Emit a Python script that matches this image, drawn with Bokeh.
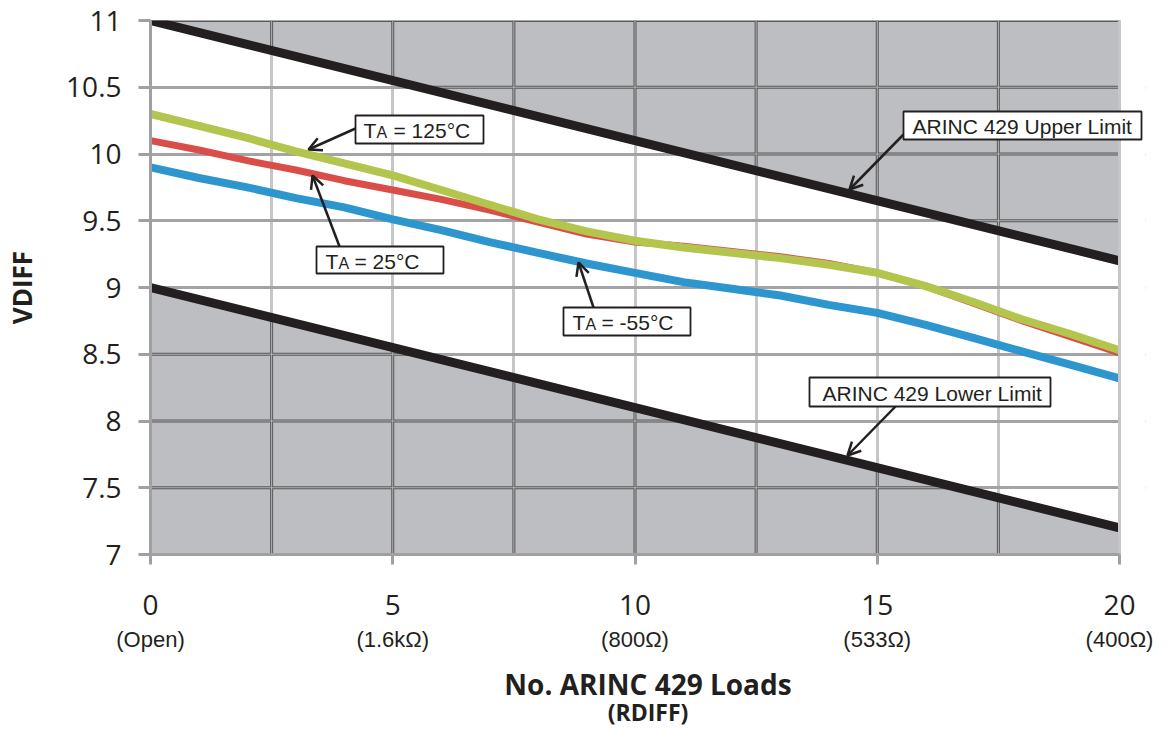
import numpy as np
from bokeh.plotting import figure
from bokeh.models import (FixedTicker, LinearAxis, NumeralTickFormatter, Label,
                          BoxAnnotation, Arrow, OpenHead, Range1d)
from bokeh.embed import file_html
from bokeh.resources import INLINE

# ---------------- data ----------------
loads = list(range(21))
v_125 = [10.30, 10.21, 10.12, 10.02, 9.93, 9.84, 9.73, 9.62, 9.51, 9.42, 9.35,
         9.30, 9.26, 9.22, 9.17, 9.11, 9.01, 8.89, 8.76, 8.65, 8.53]
v_25 = [10.10, 10.03, 9.95, 9.88, 9.80, 9.73, 9.66, 9.58, 9.49, 9.40, 9.34,
        9.31, 9.27, 9.23, 9.18, 9.11, 9.01, 8.88, 8.75, 8.63, 8.51]
v_m55 = [9.90, 9.82, 9.75, 9.67, 9.60, 9.51, 9.43, 9.34, 9.26, 9.18, 9.11,
         9.04, 8.99, 8.94, 8.87, 8.81, 8.72, 8.62, 8.52, 8.42, 8.32]
limit_x = [0, 20]
upper_limit = [11.0, 9.2]
lower_limit = [9.0, 7.2]

x_ticks = [0, 5, 10, 15, 20]
x_sub_labels = ["(Open)", "(1.6kΩ)", "(800Ω)", "(533Ω)", "(400Ω)"]
x_grid = [0, 2.5, 5, 7.5, 10, 12.5, 15, 17.5, 20]
y_ticks = [7, 7.5, 8, 8.5, 9, 9.5, 10, 10.5, 11]

TXT = "#231f20"
NUM_FONT = "Open Sans"
ANN_FONT = "Liberation Sans"
PX_PER_X = 48.45
X_END = 20 + 26 / PX_PER_X      # a little room on the right for the upper-limit callout

p = figure(width=1153, height=730, x_range=Range1d(0, X_END), y_range=Range1d(7, 11),
           output_backend="svg", toolbar_location=None,
           min_border_left=150, min_border_right=8, min_border_top=20,
           min_border_bottom=176)
p.outline_line_color = None
p.background_fill_color = "white"

# grid
p.xgrid.ticker = FixedTicker(ticks=x_grid)
p.xgrid.grid_line_color = "#c6c6c8"
p.xgrid.grid_line_width = 3
p.ygrid.ticker = FixedTicker(ticks=y_ticks)
p.ygrid.grid_line_color = "#a3a3a6"
p.ygrid.grid_line_width = 3

# axes
for ax in (p.xaxis[0], p.yaxis[0]):
    ax.axis_line_color = "#a0a0a2"
    ax.axis_line_width = 3
    ax.major_tick_line_color = "#a0a0a2"
    ax.major_tick_line_width = 3
    ax.major_tick_in = 0
    ax.minor_tick_line_color = None
    ax.major_label_text_font = NUM_FONT
    ax.major_label_text_font_size = "28px"
    ax.major_label_text_color = TXT

p.xaxis[0].ticker = FixedTicker(ticks=x_ticks)
p.xaxis[0].bounds = (x_ticks[0], x_ticks[-1])
p.xaxis[0].major_tick_out = 10
p.xaxis[0].major_label_standoff = 30
p.yaxis[0].ticker = FixedTicker(ticks=y_ticks)
p.yaxis[0].formatter = NumeralTickFormatter(format="0.[0]")
p.yaxis[0].major_tick_out = 12
p.yaxis[0].major_label_standoff = 17
p.yaxis[0].axis_label = "VDIFF"
p.yaxis[0].axis_label_text_font = NUM_FONT
p.yaxis[0].axis_label_text_font_size = "26px"
p.yaxis[0].axis_label_text_font_style = "bold"
p.yaxis[0].axis_label_text_color = TXT
p.yaxis[0].axis_label_standoff = 23

sub_axis = LinearAxis(ticker=FixedTicker(ticks=x_ticks), bounds=(x_ticks[0], x_ticks[-1]),
                      major_label_overrides={t: s for t, s in zip(x_ticks, x_sub_labels)},
                      axis_line_color=None, major_tick_line_color=None,
                      minor_tick_line_color=None, major_tick_out=0, major_tick_in=0,
                      major_label_standoff=9,
                      major_label_text_font=ANN_FONT, major_label_text_font_size="22px",
                      major_label_text_color=TXT,
                      axis_label="No. ARINC 429 Loads", axis_label_standoff=10,
                      axis_label_text_font=NUM_FONT, axis_label_text_font_size="28px",
                      axis_label_text_font_style="bold", axis_label_text_color=TXT)
p.add_layout(sub_axis, "below")

title_axis = LinearAxis(ticker=FixedTicker(ticks=[]), axis_line_color=None,
                        major_tick_line_color=None, minor_tick_line_color=None,
                        major_tick_out=0, major_tick_in=0, major_label_standoff=0,
                        axis_label="(RDIFF)", axis_label_standoff=-10,
                        axis_label_text_font=NUM_FONT, axis_label_text_font_size="23px",
                        axis_label_text_font_style="bold", axis_label_text_color=TXT)
p.add_layout(title_axis, "below")

# shaded out-of-limit regions
y_lo, y_hi = y_ticks[0], y_ticks[-1]
p.patch([limit_x[0], limit_x[1], limit_x[1]], [y_hi, y_hi, upper_limit[1]],
        fill_color="#bdbec1", line_color=None)
p.patch([limit_x[0], limit_x[0], limit_x[1], limit_x[1]],
        [y_lo, lower_limit[0], lower_limit[1], y_lo],
        fill_color="#bdbec1", line_color=None)

# cell borders inside the shaded areas
seg_x, seg_y = [], []
for gx in x_grid:
    lo = float(np.interp(gx, limit_x, lower_limit))
    hi = float(np.interp(gx, limit_x, upper_limit))
    seg_x.append([gx, gx]); seg_y.append([y_lo, lo])
    seg_x.append([gx, gx]); seg_y.append([hi, y_hi])
for gy in y_ticks:
    if gy <= lower_limit[0]:
        xe = float(np.interp(gy, lower_limit[::-1], limit_x[::-1])) if gy > lower_limit[1] else limit_x[1]
        seg_x.append([limit_x[0], xe]); seg_y.append([gy, gy])
    if gy >= upper_limit[1]:
        xs_ = float(np.interp(gy, upper_limit[::-1], limit_x[::-1])) if gy < upper_limit[0] else limit_x[0]
        seg_x.append([xs_, limit_x[1]]); seg_y.append([gy, gy])
p.multi_line(seg_x, seg_y, line_color="#58585a", line_width=3)
p.multi_line(seg_x, seg_y, line_color="#b4b4b6", line_width=1)

# limit lines
p.line(limit_x, upper_limit, line_color="#231f20", line_width=9)
p.line(limit_x, lower_limit, line_color="#231f20", line_width=9)

# measured curves
p.line(loads, v_m55, line_color="#2e96ce", line_width=8, line_join="round")
p.line(loads, v_25, line_color="#da4e4a", line_width=7, line_join="round")
p.line(loads, v_125, line_color="#b4c54e", line_width=8, line_join="round")

# blank strip right of the chart area (room for the callout only)
p.quad(left=x_ticks[-1], right=X_END, bottom=y_lo, top=y_hi,
       fill_color="white", line_color=None)
p.segment(x0=x_grid[-1], y0=y_lo, x1=x_grid[-1], y1=y_hi,
          line_color="#c6c6c8", line_width=3)

# ---------------- callouts ----------------
def px2x(px):
    return (px - 150) / PX_PER_X

def py2y(py):
    return 7 + (554 - py) / 133.5

def box(l, r, t, b):
    p.add_layout(BoxAnnotation(left=px2x(l), right=px2x(r), top=py2y(t), bottom=py2y(b),
                               fill_color="white", fill_alpha=1.0, line_color=TXT,
                               line_width=1.8, line_alpha=1.0, level="annotation"))

def txt(px, py, text, size="21px"):
    p.add_layout(Label(x=px2x(px), y=py2y(py), text=text, text_font=ANN_FONT,
                       text_font_size=size, text_color=TXT, text_align="left",
                       text_baseline="alphabetic"))

def arrow(x0, y0, x1, y1):
    p.add_layout(Arrow(end=OpenHead(size=13, line_color=TXT, line_width=2.5),
                       x_start=px2x(x0), y_start=py2y(y0), x_end=px2x(x1), y_end=py2y(y1),
                       line_color=TXT, line_width=2.5))

def ta_label(l, r, t, b, xt, xa, xe, base, rest):
    box(l, r, t, b)
    txt(xt, base, "T")
    txt(xa, base + 2, "A", size="16px")
    txt(xe, base, rest)

arrow(355, 128, 308, 149)
ta_label(355, 483, 115, 143, 363, 376, 393, 130, "= 125°C")
arrow(339, 246, 312, 175)
ta_label(316, 443, 246, 273, 325, 338, 354, 261, "= 25°C")
arrow(593, 307, 578, 262)
ta_label(563, 690, 307, 335, 572, 585, 601, 322, "= -55°C")

arrow(904, 133, 849, 189)
box(903, 1141, 111, 139)
txt(912, 126, "ARINC 429 Upper Limit")
arrow(895, 406, 847, 455)
box(809, 1050, 377, 406)
txt(822, 393, "ARINC 429 Lower Limit")

open("out.html", "w", encoding="utf-8").write(file_html(p, INLINE))
